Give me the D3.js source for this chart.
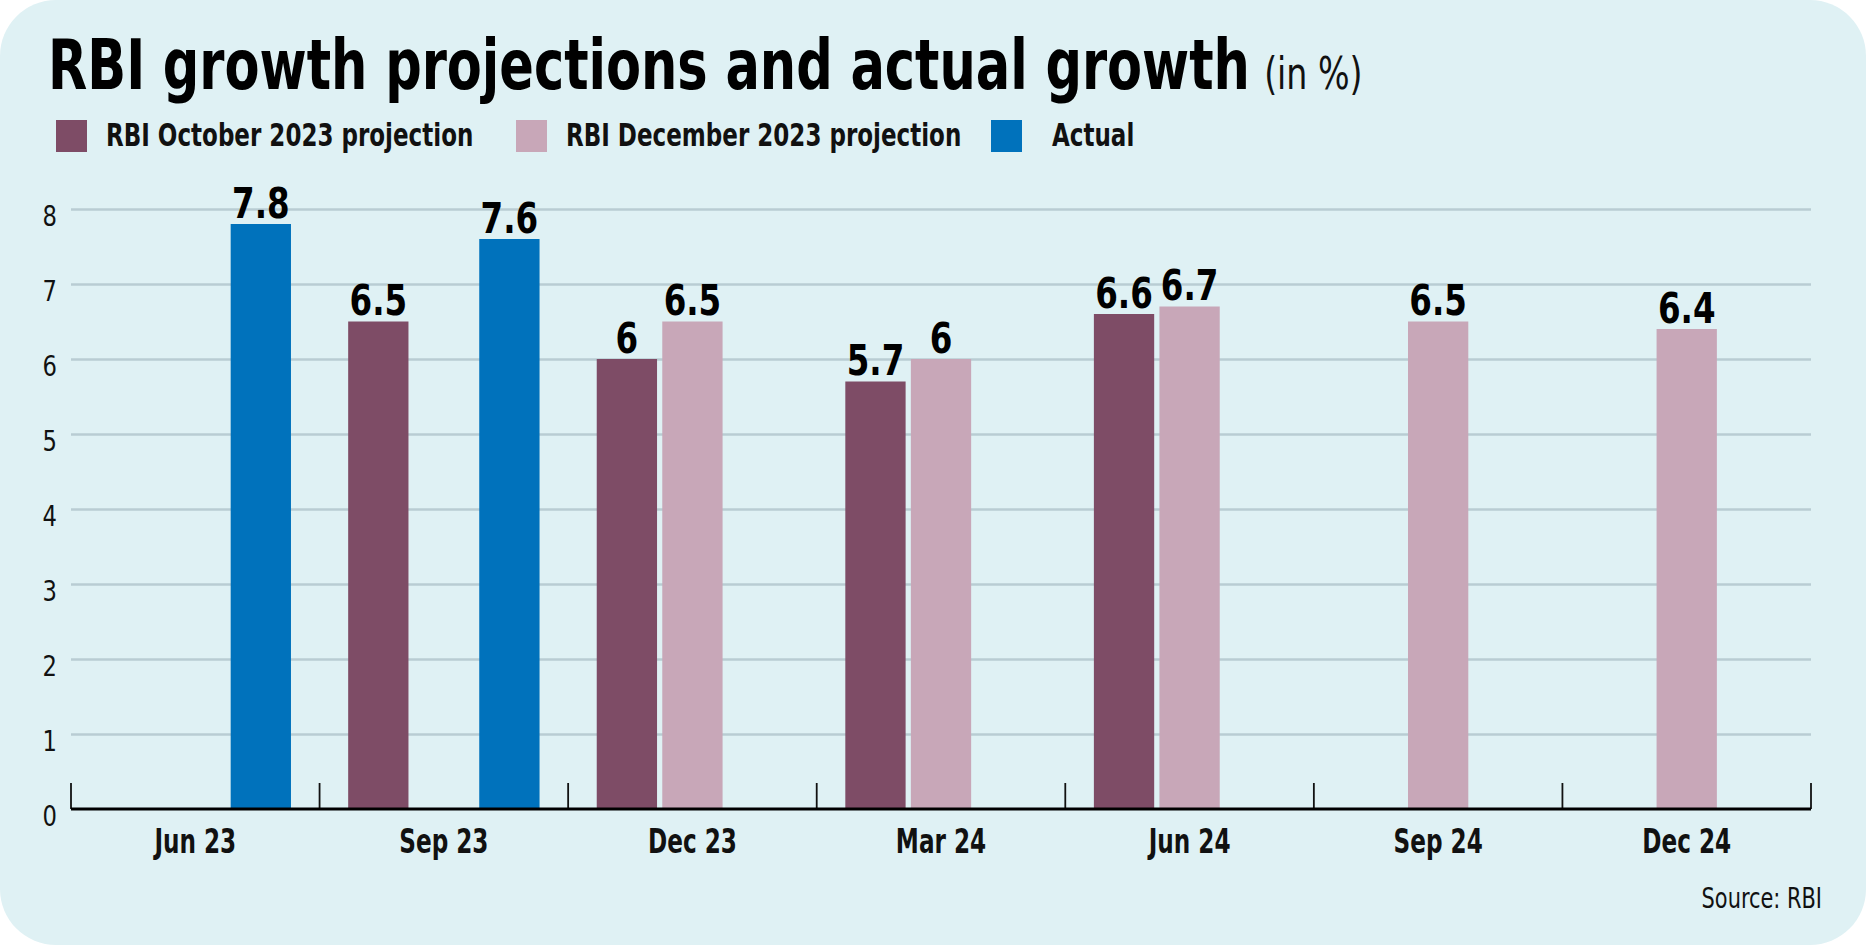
<!DOCTYPE html>
<html>
<head>
<meta charset="utf-8">
<script src="https://cdn.jsdelivr.net/npm/d3@7"></script>
<style>
  html, body { margin: 0; padding: 0; background: #ffffff; }
  svg { display: block; }
  text { font-family: 'Liberation Sans Narrow', 'DejaVu Sans Condensed', 'Roboto Condensed', sans-serif; }
</style>
</head>
<body>
<div id="svg-container"></div>
<script>
/* global d3 */
(function () {
  'use strict'

  // Data
  var categories = ['Jun 23', 'Sep 23', 'Dec 23', 'Mar 24', 'Jun 24', 'Sep 24', 'Dec 24']
  var seriesNames = ['RBI October 2023 projection', 'RBI December 2023 projection', 'Actual']
  var octProjection = [null, 6.5, 6, 5.7, 6.6, null, null]
  var decProjection = [null, null, 6.5, 6, 6.7, 6.5, 6.4]
  var actual = [7.8, 7.6, null, null, null, null, null]
  var yTicks = [0, 1, 2, 3, 4, 5, 6, 7, 8]

  var colors = ['#7e4c66', '#c8a7b8', '#0072bc']

  // Dimensions and stuff
  var w = 1866
  var h = 945
  var left = 71
  var right = 1811
  var baseY = 809
  var topY = 209
  var groupPad = 28.6

  var rows = [octProjection, decProjection, actual]
  var bars = []
  rows.forEach(function (row, si) {
    row.forEach(function (v, ci) {
      if (v !== null) bars.push({ cat: categories[ci], series: seriesNames[si], value: v, color: colors[si] })
    })
  })

  // squeeze text horizontally around its anchor, no real condensed font here
  function condense (sel, f) {
    sel.each(function () {
      var t = d3.select(this)
      var x = +t.attr('x') || 0
      t.attr('x', 0)
        .attr('transform', 'translate(' + x + ',0) scale(' + f + ',1)')
    })
  }

  var s = d3.select('#svg-container').append('svg')
    .attr('width', w)
    .attr('height', h)

  // Card background
  s.append('rect')
    .attr('width', w)
    .attr('height', h)
    .attr('rx', 56)
    .attr('fill', '#dff1f4')

  // Title
  var titleMain = s.append('text')
    .attr('x', 48)
    .attr('y', 89)
    .attr('font-size', 70)
    .attr('font-weight', 'bold')
    .attr('fill', '#000')
    .text('RBI growth projections and actual growth')
  var titleEnd = 48 + titleMain.node().getComputedTextLength() * 0.81
  titleMain.call(condense, 0.81)
  s.append('text')
    .attr('x', titleEnd + 14)
    .attr('y', 89)
    .attr('font-size', 44)
    .attr('fill', '#111')
    .text('(in %)')
    .call(condense, 0.84)

  // Legend
  var legendX = [56, 516, 991]
  var legendTextX = [106, 566, 1052]
  var lg = s.append('g').attr('class', 'legend')
  seriesNames.forEach(function (name, i) {
    lg.append('rect')
      .attr('x', legendX[i])
      .attr('y', 120)
      .attr('width', 31)
      .attr('height', 32)
      .attr('fill', colors[i])
    lg.append('text')
      .attr('x', legendTextX[i])
      .attr('y', 146)
      .attr('font-size', 32)
      .attr('font-weight', 'bold')
      .attr('fill', '#111')
      .text(name)
      .call(condense, 0.8)
  })

  // Scales
  var x0 = d3.scaleBand().domain(categories).range([left, right]).padding(0)
  var x1 = d3.scaleBand().domain(seriesNames)
    .range([groupPad, x0.bandwidth() - groupPad])
    .paddingInner(0.08)
  var y = d3.scaleLinear().domain([0, 8]).range([baseY, topY])

  // Gridlines + y labels
  var yAxis = s.append('g')
    .attr('class', 'y axis')
    .attr('transform', 'translate(' + left + ',0)')
    .call(d3.axisLeft(y).tickValues(yTicks).tickSize(-(right - left)).tickPadding(14))
  yAxis.select('.domain').remove()
  yAxis.selectAll('.tick line')
    .attr('stroke', '#b9ccd3')
    .attr('stroke-width', 2.5)
  yAxis.selectAll('.tick text')
    .attr('font-size', 28)
    .attr('fill', '#111')
    .attr('dy', '0.6em')
    .call(condense, 0.9)
  yAxis.selectAll('.tick').filter(function (d) { return d === 0 }).select('line').remove()

  // Bars
  s.append('g').attr('class', 'chart-area')
    .selectAll('rect')
    .data(bars)
    .enter().append('rect')
    .attr('x', function (d) { return x0(d.cat) + x1(d.series) })
    .attr('y', function (d) { return y(d.value) })
    .attr('width', x1.bandwidth())
    .attr('height', function (d) { return baseY - y(d.value) })
    .attr('fill', function (d) { return d.color })

  // Value labels
  s.append('g').attr('class', 'labels')
    .selectAll('text')
    .data(bars)
    .enter().append('text')
    .attr('x', function (d) { return x0(d.cat) + x1(d.series) + x1.bandwidth() / 2 })
    .attr('y', function (d) { return y(d.value) - 6 })
    .attr('text-anchor', 'middle')
    .attr('font-size', 42)
    .attr('font-weight', 'bold')
    .attr('fill', '#000')
    .text(function (d) { return d.value })
    .call(condense, 0.86)

  // X axis
  var xAxis = s.append('g')
    .attr('class', 'x axis')
    .attr('transform', 'translate(0,' + baseY + ')')
    .call(d3.axisBottom(x0).tickSize(0).tickPadding(21))
  xAxis.select('.domain').remove()
  xAxis.selectAll('.tick text')
    .attr('font-size', 33)
    .attr('font-weight', 'bold')
    .attr('fill', '#111')
    .call(condense, 0.78)

  // Separator ticks between categories
  var edges = categories.map(function (c) { return x0(c) }).concat([right])
  s.append('g').attr('class', 'separators')
    .selectAll('line')
    .data(edges)
    .enter().append('line')
    .attr('x1', function (d) { return d })
    .attr('x2', function (d) { return d })
    .attr('y1', baseY)
    .attr('y2', baseY - 26)
    .attr('stroke', '#111')
    .attr('stroke-width', 1.8)

  s.append('line')
    .attr('x1', left)
    .attr('x2', right)
    .attr('y1', baseY)
    .attr('y2', baseY)
    .attr('stroke', '#000')
    .attr('stroke-width', 3)

  // Source
  s.append('text')
    .attr('x', 1822)
    .attr('y', 908)
    .attr('text-anchor', 'end')
    .attr('font-size', 28)
    .attr('fill', '#111')
    .text('Source: RBI')
    .call(condense, 0.83)
}())
</script>
</body>
</html>
